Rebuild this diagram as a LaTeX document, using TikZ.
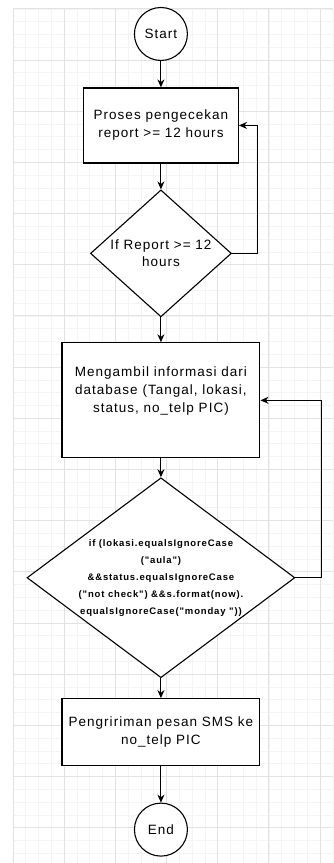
\documentclass[tikz,border=0pt]{standalone}
\usepackage{fontspec}
\setmainfont{Liberation Sans}[LetterSpace=7.5]
\newfontfamily\condfont{Liberation Sans}[LetterSpace=9]
\usepackage{tikz}
\usetikzlibrary{shapes.geometric,arrows.meta}

\begin{document}
\begin{tikzpicture}[x=1pt,y=-1pt,
	terminal/.style={shape=circle,draw=black,fill=white,line width=1.1pt,minimum size=53pt,inner sep=0pt,font=\fontsize{13.5}{18}\selectfont},
	proc/.style={shape=rectangle,draw=black,fill=white,line width=1.2pt,align=center,inner sep=0pt,font=\fontsize{13.5}{18}\selectfont},
	decision/.style={shape=diamond,draw=black,fill=white,line width=1.1pt,inner sep=0pt},
	arr/.style={-{Stealth[length=8pt,width=7pt]},line width=1.1pt}]

	% background and grid
	\fill[white] (0,0) rectangle (333,863);
	\draw[shift={(13,8.8)},color={rgb,255:red,244;green,244;blue,244},line width=0.6pt,step=12.8pt] (0,0) grid (320,854.2);
	\draw[shift={(13,8.8)},color={rgb,255:red,226;green,226;blue,226},line width=0.8pt,step=51.2pt] (0,0) grid (320,854.2);

	\node[terminal] (start) at (161, 34) {Start};
	\node[proc,minimum width=155pt,minimum height=75pt] (proc1) at (161, 125.5) {Proses pengecekan\\report >= 12 hours};
	\node[decision,minimum width=141pt,minimum height=127pt] (dec1) at (161, 253.5) {};
	\node[align=center,font=\fontsize{13.5}{17}\selectfont] (dec1txt) at (dec1) {If Report >= 12\\hours};
	\node[proc,minimum width=198pt,minimum height=115pt] (proc2) at (161, 400.5) {Mengambil informasi dari\\database (Tangal, lokasi,\\status, no\_telp PIC)\\[4pt]};
	\node[decision,minimum width=268pt,minimum height=200pt] (dec2) at (161, 578) {};
	\node[align=center,font=\condfont\bfseries\fontsize{9.5}{17}\selectfont] (dec2txt) at (dec2) {if (lokasi.equalsIgnoreCase\\("aula")\\\&\&status.equalsIgnoreCase\\("not check") \&\&s.format(now).\\equalsIgnoreCase("monday "))};
	\node[proc,minimum width=198pt,minimum height=67pt] (proc3) at (161, 732.5) {Pengririman pesan SMS ke\\no\_telp PIC};
	\node[terminal] (end) at (161, 830) {End};

	\draw[arr] (start) -- (proc1);
	\draw[arr] (proc1) -- (dec1);
	\draw[arr] (dec1.east) -- ++(26,0) |- (proc1.east);
	\draw[arr] (dec1) -- (proc2);
	\draw[arr] (proc2) -- (dec2);
	\draw[arr] (dec2.east) -- ++(26,0) |- (proc2.east);
	\draw[arr] (dec2) -- (proc3);
	\draw[arr] (proc3) -- (end);
\end{tikzpicture}
\end{document}
